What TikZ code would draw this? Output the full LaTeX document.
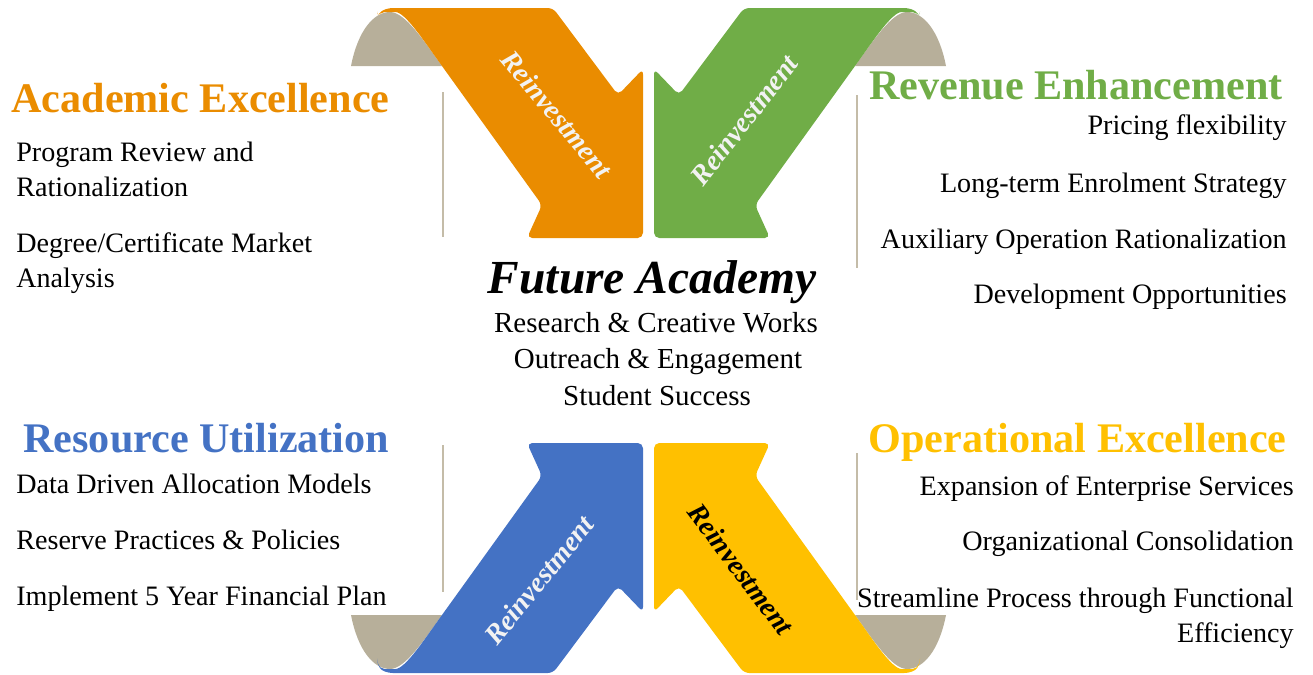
\documentclass[tikz,border=0pt]{standalone}
\usepackage{fontspec}
\setmainfont{Liberation Serif}
\definecolor{cOrange}{HTML}{EA8C00}
\definecolor{cGreen}{HTML}{70AD47}
\definecolor{cBlue}{HTML}{4472C4}
\definecolor{cYellow}{HTML}{FFC000}
\definecolor{cBack}{HTML}{B7AF9A}
\definecolor{cRule}{HTML}{C4BCA8}
\definecolor{cRein}{HTML}{F2F2F2}
\newcommand{\ribbonshape}{(377,17) .. controls (382,10) and (388,8) .. (398,8) -- (553,8) -- (618,95) -- (643,69) -- (643,238) -- (527,238) -- (542,205) -- (442,66) .. controls (424,41) and (405,12) .. (390,12) .. controls (384,12) and (380,14) .. (377,17) -- cycle}
\newcommand{\backshape}{(351,66) .. controls (358,30) and (374,12) .. (390,12) .. controls (405,12) and (424,41) .. (442,66) -- cycle}
\tikzset{
  rein/.style={font=\fontsize{16}{16}\selectfont\bfseries\itshape, text=cRein, inner sep=0pt},
  head/.style={font=\fontsize{24}{24}\selectfont\bfseries, inner sep=0pt},
  body/.style={font=\fontsize{16}{16}\selectfont, inner sep=0pt, text=black},
  mid/.style={font=\fontsize{16.5}{16.5}\selectfont, inner sep=0pt, text=black, anchor=base},
  rule/.style={draw=cRule, line width=0.6pt},
  ribbon/.style={rounded corners=3pt}
}
\begin{document}
\begin{tikzpicture}[x=0.02cm,y=-0.02cm]
\useasboundingbox (0,0) rectangle (1313,674);
% orange (top left)
\fill[cBack] \backshape;
\fill[cOrange, ribbon] \ribbonshape;
% green (top right)
\begin{scope}[shift={(1297,0)}, xscale=-1]
\fill[cBack] \backshape;
\fill[cGreen, ribbon] \ribbonshape;
\end{scope}
% blue (bottom left)
\begin{scope}[shift={(0,681)}, yscale=-1]
\fill[cBack] \backshape;
\fill[cBlue, ribbon] \ribbonshape;
\end{scope}
% yellow (bottom right)
\begin{scope}[shift={(1297,681)}, xscale=-1, yscale=-1]
\fill[cBack] \backshape;
\fill[cYellow, ribbon] \ribbonshape;
\end{scope}
% arrow labels
\node[rein, rotate=-50] (r1) at (557,114) {Reinvestment};
\node[rein, rotate=52] (r2) at (744,120) {Reinvestment};
\node[rein, rotate=51] (r3) at (539,580) {Reinvestment};
\node[rein, text=black, rotate=-53] (r4) at (741,569) {Reinvestment};
% separator rules
\coordinate (l1a) at (443,92); \coordinate (l1b) at (443,237);
\coordinate (l2a) at (857,95); \coordinate (l2b) at (857,268);
\coordinate (l3a) at (443,445); \coordinate (l3b) at (443,592);
\coordinate (l4a) at (857,453); \coordinate (l4b) at (857,600);
\draw[rule] (l1a) -- (l1b);
\draw[rule] (l2a) -- (l2b);
\draw[rule] (l3a) -- (l3b);
\draw[rule] (l4a) -- (l4b);
% Academic Excellence
\node[head, text=cOrange, anchor=base west] (h1) at (11,112) {Academic Excellence};
\node[body, anchor=base west] (a1) at (16,161) {Program Review and};
\node[body, anchor=base west] (a2) at (16,196) {Rationalization};
\node[body, anchor=base west] (a3) at (16,252) {Degree/Certificate Market};
\node[body, anchor=base west] (a4) at (16,287) {Analysis};
% Revenue Enhancement
\node[head, text=cGreen, anchor=base east] (h2) at (1283,99) {Revenue Enhancement};
\node[body, anchor=base east] (b1) at (1287,134) {Pricing flexibility};
\node[body, anchor=base east] (b2) at (1287,192) {Long-term Enrolment Strategy};
\node[body, anchor=base east] (b3) at (1287,248) {Auxiliary Operation Rationalization};
\node[body, anchor=base east] (b4) at (1287,303) {Development Opportunities};
% Resource Utilization
\node[head, text=cBlue, anchor=base west] (h3) at (23,452) {Resource Utilization};
\node[body, anchor=base west] (c1) at (16,493) {Data Driven Allocation Models};
\node[body, anchor=base west] (c2) at (16,549) {Reserve Practices \& Policies};
\node[body, anchor=base west] (c3) at (16,605) {Implement 5 Year Financial Plan};
% Operational Excellence
\node[head, text=cYellow, anchor=base east] (h4) at (1287,452) {Operational Excellence};
\node[body, anchor=base east] (d1) at (1294,495) {Expansion of Enterprise Services};
\node[body, anchor=base east] (d2) at (1294,550) {Organizational Consolidation};
\node[body, anchor=base east] (d3) at (1294,607) {Streamline Process through Functional};
\node[body, anchor=base east] (d4) at (1294,642) {Efficiency};
% centre
\node[font=\fontsize{27}{27}\selectfont\bfseries\itshape, inner sep=0pt, anchor=base] (fa) at (652,293) {Future Academy};
\node[mid] (m1) at (656,332) {Research \& Creative Works};
\node[mid] (m2) at (658,368) {Outreach \& Engagement};
\node[mid] (m3) at (657,405) {Student Success};
\end{tikzpicture}
\end{document}
